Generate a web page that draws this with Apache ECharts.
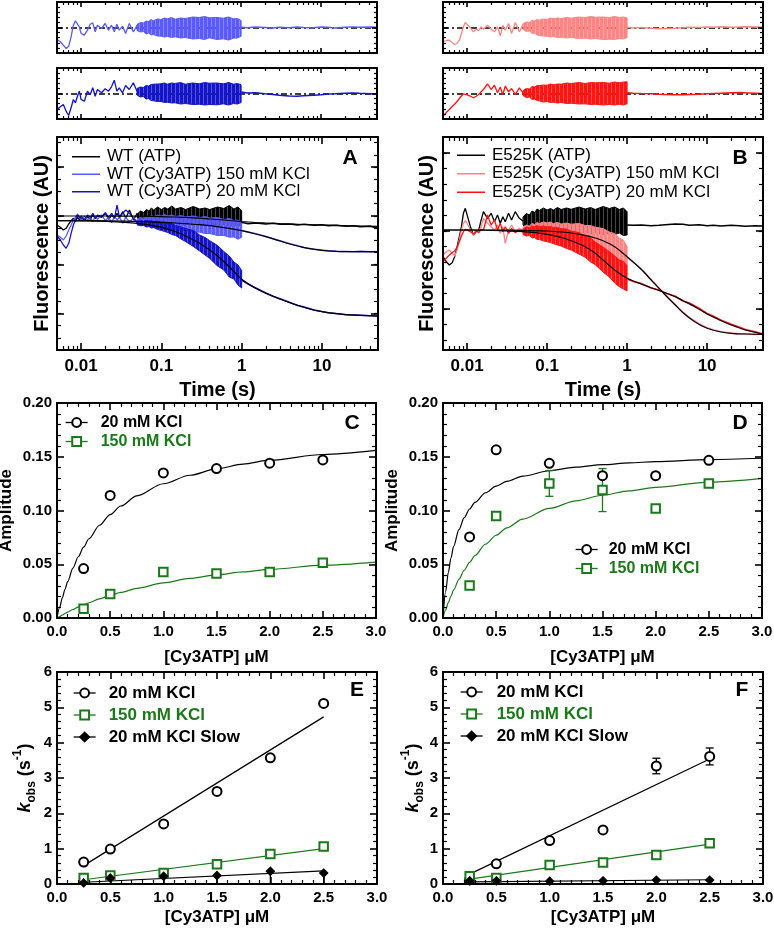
<!DOCTYPE html>
<html><head><meta charset="utf-8">
<script src="https://cdn.jsdelivr.net/npm/echarts@6/dist/echarts.min.js"></script>
<style>html,body{margin:0;padding:0;background:#fff}#c{width:774px;height:928px}</style>
</head><body><div id="c"></div>
<script>
// ================= DATA =================
// time bases (s)
const tEarly = [0.005,0.0055,0.006,0.0065,0.007,0.0075,0.008,0.0085,0.009,0.0095,0.01,0.011,0.012,0.013,0.014,0.015,0.016,0.018,0.02,0.022,0.024,0.026,0.028,0.03,0.033,0.036,0.04,0.045,0.05];
const tBand = [0.05,0.055,0.06,0.065,0.07,0.075,0.08,0.09,0.1,0.11,0.12,0.135,0.15,0.175,0.2,0.25,0.3,0.35,0.4,0.5,0.6,0.7,0.8,0.9,1];
const tLate = [1,1.2,1.5,2,2.5,3,4,5,6,8,10,12,15,20,25,30,40,50];
const tFit = [0.005,0.01,0.02,0.05,0.1,0.15,0.2,0.3,0.4,0.5,0.7,1,1.5,2,3,4,5,7,10,15,20,30,50];

// Panel A (WT) fluorescence, AU
const aAtpEarly = [125,122.7,120,121.7,126,129.3,131.7,128.3,132.7,130,134,129.3,133.3,130.7,135,131.3,134,132.7,136.7,130.7,134.7,132,136.7,132.7,138.3,131.7,140,130,137];
const aAtpHi = [136,139,137.5,140.5,139,142,140,143,140.5,142.5,141,144,141,142.5,140.5,143.5,141,142,140.5,143,141.5,144.5,141,143,139];
const aAtpLo = [132,130,131,128.5,129.5,127,128,126,127.5,125.5,127,125,126.5,124.5,126,125,126.5,124.5,126,124.5,125.5,123.5,125,123.5,126];
const aAtpLate = [127.7,126.3,127,126,126.7,125.7,126,125,125.7,124.7,125.3,124.3,124.7,123.7,124.3,123.3,123.7,121.7];
const aAtpFit = [134,134,134,133.8,133.3,133,132.5,131.8,131,130.5,129.5,128.5,127.5,127,126.3,126,125.7,125.3,125,124.6,124.3,124,123.7];

const a150Early = [115,112.7,110,114,120,125,130,132.7,136,132.7,130,134,130,132.7,128.3,134,130.7,135,129.3,132.7,127.3,134,130,132.7,126.7,132.7,128.3,131.7,128.5];
const a150Hi = [130.5,132.5,131.5,133.5,132.5,134.5,133.5,135,134,135.5,134,135,133.5,134.5,133,134,132.5,133.5,132,132.5,130.5,131.5,129.5,130,126.7];
const a150Lo = [126.5,125,125.5,123.5,124,122.5,123,121.5,122,120.5,121.5,120,120.5,119,119.5,118,117.8,116.5,116.5,114.5,114.5,112.8,113,110.8,112.7];
const a150Late = [119.5,118,116.3,113.5,111,109.3,106.3,104.2,102.5,100.8,99.9,99.2,98.8,98.5,98.2,98.6,98.1,98.4];
const a150Fit = [129.3,129.3,129.2,128.7,127.7,127,126.3,125.3,124.3,123.3,121.7,119.3,116,113.3,109,106,104,101.3,99.7,98.7,98.3,98.3,98.3];

const a20Early = [114,110,105,101.7,106.7,116.7,125,130,135,132.7,134,130.7,135,132.7,136.7,131.7,135,133.3,137.3,132.7,136.7,131.7,145,132.7,136.7,140,136.7,131.7,127];
const a20Hi = [128.5,129.3,128.8,129.5,129,129.3,128.3,128.8,127.7,128,126.5,126.5,124.5,123,121.5,119.5,115,112.5,109.3,104.5,98.5,94,88,85,79.5];
const a20Lo = [125,124.2,124.5,123,123.5,122,122.5,120.5,119.5,118.5,117.5,115.5,114.5,111,108.5,103.5,99,95,91.5,84,80,73,71,65,62];
const a20Late = [70,66,62,57,53.5,51.3,47.5,44.5,43,40,38.5,37.3,36.5,35.2,35,34.8,34.2,33.8];
const a20Fit = [129.3,129.2,128.7,126.7,122.7,118.3,114,106.7,100,94,83.3,70.7,61.7,56.7,51,47.3,44.7,41,38.3,36.3,35.3,34.7,34];

// Panel B (E525K) fluorescence, AU
const bAtpEarly = [93.3,88.3,85,87.3,93.3,103.3,113.3,123.3,136.7,141.7,140,123.3,115,118.3,120,130,138.3,131.7,136.7,128.3,135,126.7,133.3,128.3,136.7,130,138.3,131.7,129];
const bAtpHi = [133,136.5,135,139,137.5,141,139.5,142,140,141.5,140,142.5,140.5,142,140.7,143,141,142.5,140.5,143.5,141.5,143,140.5,142,138.3];
const bAtpLo = [125,122.5,124,120.5,122,119,120.5,118,120,118,119.5,117.5,119,117,118.5,116.5,118,116,117.5,115.5,117,115.5,117,114.5,115];
const bAtpLate = [125,124.7,125,124.3,124.7,125.3,126,125.7,124.7,125.3,124.3,124.7,124,124.7,124.3,123.7,124.3,124];

const b150Early = [95,98.3,100,96.7,94,100,110,120,126.7,129.3,126.7,120,115,120,118.3,123.3,131.7,126.7,123.3,120,125,116.7,123.3,106.7,120,125,118.3,121.7,120];
const b150Hi = [123,125,124,126.5,125.5,127.5,126.5,128,127,128,126.5,127.5,126,127,125.8,126.5,124.5,124.5,122.7,121.5,118,116.5,112,110,103.3];
const b150Lo = [117,115,116,113.5,114.5,112.5,113,111.5,111.5,110.5,110.5,109.5,109.5,108.3,108,106.5,105,103.5,101.5,98.5,95,91.5,88.5,84,83.3];
const b150Late = [92.5,88,81,70.5,62,55.5,45.5,37.8,32.5,26,22.2,20,18.2,16.9,16.3,16.2,15.6,15.9];
const b150Fit = [120,120,120,119.7,119,118,117,114.7,112,109.3,103.3,93.3,80.7,70,55,45,37.3,28.3,21.7,18,16.7,16,15.7];

const b20Early = [88.3,91.7,95,97.3,99.3,102.7,108.3,114,118.3,120.7,121.7,118.3,116,119.3,117.3,120.7,120,135,125,130,120,126.7,118.3,123.3,116.7,121.7,117.3,120,118.3];
const b20Hi = [121,123,122,124,123,124.5,123.3,124,123,123.5,122.3,122.5,121.3,121,118.7,117.5,114,112,108,103,98.3,94,90,88.5,84.3];
const b20Lo = [115.5,114,114.5,112,112.5,110.5,110.5,109,108.3,107.5,106.3,105,104,101.5,100,96,92.7,88,85.3,78,73,67,63.3,61,59];
const b20Late = [71,68.5,66.5,62,60,57,53.8,49,47,41.5,36.5,33.8,29.7,25.8,23,20.5,18.3,16];
const b20Fit = [120,120,119.7,118.3,115.7,112.7,109.3,103.3,96.7,90,80,71.7,66,62.3,57.3,53.3,49.3,43.3,36,29.3,25,20,16];

// Residuals
const rA150Early = [-12,-14.3,-17.7,-21,-18.7,-9.3,2.3,6.7,4.7,0.7,-6,-7.7,-2.7,3.3,4.7,-4.3,2.3,-1,4,-2.7,2.3,-4.3,3.3,-2.7,1.3,-6,4,-4.3,2];
const rA150Hi = [3,5,4.5,6.5,6,8,6.7,8.5,8,9.5,8.7,10,8.3,9.5,9,10.5,10,11,9.7,10,9.3,10.5,8.7,9,7];
const rA150Lo = [-3,-4.5,-4,-6.5,-5.5,-7.5,-7,-8.5,-8.7,-9.5,-9,-10,-9.3,-10.5,-10,-11.5,-11,-12,-10.3,-12,-11.3,-12.5,-10.7,-10.5,-8.7];
const rA150Late = [0.3,-0.3,0.5,0,-0.5,0.3,-0.3,0.5,0,-0.3,0.5,0.2,-0.5,0.3,0.6,0.2,0.5,0.3];

const rA20Early = [-16,-13.3,-11,-17.7,-22,-14.3,-6,-9.3,-2.7,2.3,-6,-7.7,2.3,-1,5.7,-2.7,4,0.7,4.7,2.3,6.7,13.3,2.3,5.7,0.7,8,4,10.7,2.3];
const rA20Hi = [5,6.5,6,8,7.5,9,9.3,9.5,9.7,10.5,9.3,10.5,10,11,9.3,10.5,9.7,11,10.3,10.5,9.7,11,9.3,10,8.7];
const rA20Lo = [-1.5,-3.5,-3,-5.5,-5,-7,-7.3,-8,-8,-9,-8.7,-9.5,-9.3,-10.5,-10,-11,-10.7,-11.5,-11,-11.3,-10.3,-11.5,-10,-10.5,-9];
const rA20Late = [1.5,0.5,0.8,-0.3,-1,-1.8,-2.5,-2.8,-2.3,-1.8,-1.3,-0.5,-0.3,0.3,0.5,0.2,-0.2,-0.5];

const rB150Early = [-14.3,-13,-12.7,-15,-17,-16,-12.7,-6,0.7,5,6.3,-0.3,-4.3,-1.7,-3,0.7,-1.7,2.3,-1.7,-4.3,0.7,-8.3,2.3,-2.7,4,-6,5,-4.3,3];
const rB150Hi = [4,5.5,5,7,6.5,8,7.3,8.5,8,9.5,8.7,9.5,9,10,9.3,10.5,10,11,10.3,10.5,10,11,10,10.5,9.7];
const rB150Lo = [-2,-4,-3.5,-6,-5.5,-7.5,-8,-8.5,-8.7,-9.5,-9,-10,-9.7,-10.5,-10,-11,-10.7,-11.5,-11,-12,-11.7,-12,-11,-11.5,-10];
const rB150Late = [0.3,-0.5,0,-0.7,-1.3,-1,-0.7,-0.3,0.3,0,0.5,0.3,0.7,0.3,0.5,0.7,0.5,0.3];

const rB20Early = [-22.7,-19,-16,-13,-10.5,-8,-5,-2.5,-0.3,-1,-1.3,-2.7,-4.3,-2.7,-1,1.7,4,9.7,4,8.3,0.7,6.3,-1,7.3,1.7,5,-1,5.7,0.7];
const rB20Hi = [3,5,4.5,7,6.5,8,8,8.5,8.3,9.5,8.7,9.5,9.3,10.5,10,11,10,11,10.7,11,10.3,11.5,10.7,11.5,11.7];
const rB20Lo = [-2,-4,-3.5,-6,-5.5,-7,-7.3,-8.5,-8,-9,-8.7,-9.5,-9,-10,-9.7,-10.5,-10.3,-11,-10.7,-11.5,-11,-11.5,-10.7,-11.5,-10.3];
const rB20Late = [0.7,0.3,0,-0.3,-0.7,-1,-1.3,-1.3,-1,-0.7,-0.3,0,0.3,0.7,1,0.7,0.3,0];

// Panels C/D amplitudes
const conc = [0.25,0.5,1,1.5,2,2.5];
const cAmp20 = [0.046,0.114,0.135,0.139,0.144,0.147];
const cAmp150 = [0.0087,0.0224,0.0427,0.0414,0.0427,0.0514];
const dAmp20 = [0.0754,0.1564,0.1439,0.1324,0.1324,0.1467];
const dAmp150 = [0.0302,0.095,0.1252,0.119,0.1019,0.1252];
const dErr150 = [0,0,0.012,0.020,0,0];
const fitConc = [0,0.025,0.05,0.075,0.1,0.15,0.2,0.25,0.3,0.4,0.5,0.6,0.75,1,1.25,1.5,1.75,2,2.5,3];
const cFit20 = [0,0.0099,0.0187,0.0267,0.0339,0.0464,0.0570,0.0659,0.0737,0.0863,0.0962,0.1042,0.1136,0.1249,0.1328,0.1387,0.1432,0.1468,0.1521,0.1559];
const cFit150 = [0,0.0014,0.0028,0.0042,0.0054,0.0079,0.0101,0.0122,0.0142,0.0178,0.0210,0.0238,0.0276,0.0327,0.0368,0.0401,0.0429,0.0453,0.0491,0.0520];
const dFit20 = [0,0.0246,0.0425,0.0560,0.0667,0.0823,0.0933,0.1014,0.1076,0.1165,0.1227,0.1271,0.1319,0.1370,0.1403,0.1426,0.1443,0.1455,0.1474,0.1486];
const dFit150 = [0,0.0075,0.0143,0.0204,0.0261,0.0360,0.0444,0.0517,0.0581,0.0686,0.0770,0.0839,0.0920,0.1019,0.1090,0.1142,0.1183,0.1216,0.1264,0.1299];

// Panels E/F kobs (s^-1)
const eK20 = [0.62,0.99,1.70,2.62,3.57,5.11];
const eK150 = [0.17,0.24,0.31,0.56,0.85,1.06];
const eKslow = [0.03,0.17,0.22,0.24,0.36,0.31];
const eSlowErrLo = [0,0.12,0.2,0.24,0.36,0.31];
const lineX = [0.25,2.5];
const eFit20 = [0.52,4.73];
const eFit150 = [0.12,1.0];
const eFitSlow = [0.05,0.37];

const fK20 = [0.12,0.57,1.23,1.53,3.34,3.61];
const fErr20 = [0,0,0,0,0.22,0.24];
const fK150 = [0.22,0.17,0.54,0.61,0.82,1.15];
const fKslow = [0.09,0.09,0.08,0.09,0.11,0.11];
const fFit20 = [0.28,3.54];
const fFit150 = [0.14,1.13];
const fFitSlow = [0.06,0.12];

// tick labels
const logLabels = [0.01,0.1,1,10];

// ================= BUILD =================
const FONT = '"Liberation Sans", Arial, Helvetica, sans-serif';
const GREEN = '#1a7a1a', LBLUE = '#5a5aff', DBLUE = '#1414c8', PINK = '#ff8585', RED = '#ff1414';
const pts = (xs, ys) => xs.map((x, i) => [x, ys[i]]);

// fine vertical-hatch texture used as the fill style of the dense-noise bands
function hatch(color) {
  const c = document.createElement('canvas'); c.width = 4; c.height = 2;
  const g = c.getContext('2d');
  g.fillStyle = color; g.fillRect(0, 0, 3, 2);
  g.globalAlpha = 0.72; g.fillRect(3, 0, 1, 2);
  return {image: c, repeat: 'repeat'};
}

const logMinor = [];
[0.001,0.01,0.1,1,10].forEach(d => { for (let k = 2; k <= 9; k++) { const v = +(d * k).toPrecision(3); if (v > 0.005 && v < 50) logMinor.push(v); } });
const fluoMinorA = []; for (let k = 1; k <= 17; k++) fluoMinorA.push(+(12.2 * k).toFixed(1));
const fluoMinorB = []; for (let k = -2; k <= 10; k++) fluoMinorB.push(+(41 + 15.6 * k).toFixed(1));

const grids = [
  {left:57, top:2, width:320, height:51},
  {left:57, top:68, width:320, height:51},
  {left:443, top:2, width:320, height:51},
  {left:443, top:68, width:320, height:51},
  {left:57, top:137, width:321, height:213},
  {left:443, top:137, width:320, height:213},
  {left:57, top:403, width:319, height:215},
  {left:443, top:403, width:319, height:215},
  {left:57, top:672, width:320, height:212},
  {left:443, top:672, width:320, height:212}
].map(g => Object.assign({outerBoundsMode:'none', containLabel:false}, g));

const xAxes = [], yAxes = [];
function ax(g, s, pos, isMain, minor) {
  const o = {
    gridIndex: g, type: s.type, position: pos, min: s.min, max: s.max, silent: true, z: 10,
    splitLine: {show:false}, minorSplitLine: {show:false},
    axisLine: {show: !minor, onZero: false, lineStyle: {color:'#000', width:2}},
    axisTick: {show:true, inside:true, length: minor ? s.minLen : s.majLen, lineStyle: {color:'#000', width: minor ? 1.2 : 1.6}},
    minorTick: {show:false}, axisLabel: {show:false}, axisPointer: {show:false}
  };
  if (s.type === 'log') o.logBase = 10;
  if (minor) { o.axisTick.customValues = s.minors; }
  else {
    if (s.majors) o.axisTick.customValues = s.majors;
    if (s.interval) o.interval = s.interval;
    if (s.minorSplit) o.minorTick = {show:true, splitNumber:s.minorSplit, length:s.minLen, lineStyle:{color:'#000', width:1.2}};
    if (isMain && s.labels) {
      o.axisLabel = {show:true, fontFamily:FONT, fontWeight:'bold', fontSize:s.labelSize, color:'#000', margin:s.labelMargin, formatter:s.fmt};
      if (s.labelValues) o.axisLabel.customValues = s.labelValues;
    }
    if (isMain && s.name) {
      o.name = s.name; o.nameLocation = 'middle'; o.nameGap = s.nameGap;
      o.nameTextStyle = Object.assign({fontFamily:FONT, fontWeight:'bold', fontSize:s.nameSize, color:'#000'}, s.nameStyle || {});
    }
  }
  return o;
}
function addPanel(g, xs, ys) {
  xAxes.push(ax(g, xs, 'bottom', true, false)); const xi = xAxes.length - 1;
  xAxes.push(ax(g, xs, 'top', false, false));
  if (xs.minors) { xAxes.push(ax(g, xs, 'bottom', false, true)); xAxes.push(ax(g, xs, 'top', false, true)); }
  yAxes.push(ax(g, ys, 'left', true, false)); const yi = yAxes.length - 1;
  yAxes.push(ax(g, ys, 'right', false, false));
  if (ys.minors) { yAxes.push(ax(g, ys, 'left', false, true)); yAxes.push(ax(g, ys, 'right', false, true)); }
  return {xi, yi};
}

const logRes = {type:'log', min:0.005, max:50, majors:logLabels, minors:logMinor, majLen:5, minLen:3};
const yRes = {type:'value', min:-25.5, max:25.5, majors:[0], minors:[-20.4,-15.3,-10.2,-5.1,5.1,10.2,15.3,20.4], majLen:5, minLen:3};
const logMain = {type:'log', min:0.005, max:50, majors:logLabels, minors:logMinor, majLen:7, minLen:4,
  labels:true, labelValues:logLabels, labelSize:17, labelMargin:8, fmt: v => String(+(+v).toPrecision(2)),
  name:'Time (s)', nameGap:30, nameSize:20};
const yFluoA = {type:'value', min:0, max:213, majors:[36.6,85.4,134.2,183], minors:fluoMinorA, majLen:7, minLen:4, name:'Fluorescence (AU)', nameGap:5, nameSize:20};
const yFluoB = {type:'value', min:0, max:213, majors:[41,119,197], minors:fluoMinorB, majLen:7, minLen:4, name:'Fluorescence (AU)', nameGap:6, nameSize:20};
const xConc = (gap) => ({type:'value', min:0, max:3, interval:0.5, minorSplit:5, majLen:7, minLen:4, labels:true, labelSize:15, labelMargin:6,
  fmt: v => (+v).toFixed(1), name:'[Cy3ATP] \u03bcM', nameGap:gap, nameSize:17});
const yAmp = (gap) => ({type:'value', min:0, max:0.2, interval:0.05, minorSplit:5, majLen:7, minLen:4, labels:true, labelSize:15, labelMargin:5,
  fmt: v => (+v).toFixed(2), name:'Amplitude', nameGap:gap, nameSize:17});
const kRich = {
  k:{fontFamily:FONT, fontSize:18, fontWeight:'bold', fontStyle:'italic', lineHeight:26, verticalAlign:'middle'},
  n:{fontFamily:FONT, fontSize:18, fontWeight:'bold', lineHeight:26, verticalAlign:'middle'},
  sub:{fontFamily:FONT, fontSize:12, fontWeight:'bold', lineHeight:26, verticalAlign:'bottom'},
  sup:{fontFamily:FONT, fontSize:12, fontWeight:'bold', lineHeight:26, verticalAlign:'top'}
};
const yK = (gap) => ({type:'value', min:0, max:6, interval:1, minorSplit:5, majLen:7, minLen:4, labels:true, labelSize:15, labelMargin:5,
  fmt: v => String(v), name:'{k|k}{sub|obs}{n| (s}{sup|-1}{n|)}', nameGap:gap, nameSize:18, nameStyle:{rich:kRich}});

const pR1L = addPanel(0, logRes, yRes);
const pR2L = addPanel(1, logRes, yRes);
const pR1R = addPanel(2, logRes, yRes);
const pR2R = addPanel(3, logRes, yRes);
const pA = addPanel(4, logMain, yFluoA);
const pB = addPanel(5, logMain, yFluoB);
const pC = addPanel(6, xConc(31), yAmp(42));
const pD = addPanel(7, xConc(31), yAmp(42));
const pE = addPanel(8, xConc(25), yK(19));
const pF = addPanel(9, xConc(25), yK(15));

const series = [];
function lineS(name, p, data, color, width, z) {
  return {type:'line', name, xAxisIndex:p.xi, yAxisIndex:p.yi, data, symbol:'none', showSymbol:false,
    lineStyle:{color, width}, itemStyle:{color}, z, silent:true, clip:true};
}
function bandS(p, t, lo, hi, color, z) {
  const fill = hatch(color);
  return {type:'custom', xAxisIndex:p.xi, yAxisIndex:p.yi, z, silent:true, clip:true,
    data: t.map((v, i) => [v, lo[i], hi[i]]), encode:{x:0, y:1},
    renderItem(params, api) {
      if (params.dataIndex !== 0) return null;
      const up = [], dn = [];
      for (let i = 0; i < t.length; i++) { up.push(api.coord([t[i], hi[i]])); dn.push(api.coord([t[i], lo[i]])); }
      return {type:'polygon', shape:{points: up.concat(dn.reverse())}, style:{fill, stroke:color, lineWidth:1}};
    }};
}
function trace(p, name, color, early, lo, hi, late, lateW) {
  series.push(lineS(name, p, pts(tEarly, early), color, 1.3, 2));
  series.push(bandS(p, tBand, lo, hi, color, 2));
  series.push(lineS(name + ' (late)', p, pts(tLate, late), color, lateW || 1.6, 2));
}
function zeroLine(p, name) {
  const s = lineS(name, p, [], '#000', 1, 1);
  s.markLine = {silent:true, symbol:'none', z:1, animation:false, label:{show:false},
    lineStyle:{color:'#000', width:1.5, type:[6,3,2,3]}, data:[{yAxis:0}]};
  series.push(s);
}

// residuals
zeroLine(pR1L, 'zeroA1'); trace(pR1L, 'resA150', LBLUE, rA150Early, rA150Lo, rA150Hi, rA150Late, 1.4);
zeroLine(pR2L, 'zeroA2'); trace(pR2L, 'resA20', DBLUE, rA20Early, rA20Lo, rA20Hi, rA20Late, 1.4);
zeroLine(pR1R, 'zeroB1'); trace(pR1R, 'resB150', PINK, rB150Early, rB150Lo, rB150Hi, rB150Late, 1.4);
zeroLine(pR2R, 'zeroB2'); trace(pR2R, 'resB20', RED, rB20Early, rB20Lo, rB20Hi, rB20Late, 1.4);

// panel A
trace(pA, 'WT (ATP)', '#000', aAtpEarly, aAtpLo, aAtpHi, aAtpLate);
trace(pA, 'WT (Cy3ATP) 150 mM KCl', LBLUE, a150Early, a150Lo, a150Hi, a150Late);
trace(pA, 'WT (Cy3ATP) 20 mM KCl', DBLUE, a20Early, a20Lo, a20Hi, a20Late);
['atp', '150', '20'].forEach((k, i) => {
  const s = lineS('fitA ' + k, pA, pts(tFit, [aAtpFit, a150Fit, a20Fit][i]), '#000', 1.2, 4); s.smooth = 0.3; series.push(s);
});

// panel B
trace(pB, 'E525K (ATP)', '#000', bAtpEarly, bAtpLo, bAtpHi, bAtpLate);
trace(pB, 'E525K (Cy3ATP) 150 mM KCl', PINK, b150Early, b150Lo, b150Hi, b150Late);
trace(pB, 'E525K (Cy3ATP) 20 mM KCl', RED, b20Early, b20Lo, b20Hi, b20Late);
const fb1 = lineS('fitB 150', pB, pts(tFit, b150Fit), '#000', 1.2, 4); fb1.smooth = 0.3; series.push(fb1);
const fb2 = lineS('fitB 20', pB, pts(tFit, b20Fit), '#000', 1.2, 4); fb2.smooth = 0.3; series.push(fb2);

// point series helpers
function ptsS(name, p, xs, ys, symbol, size, fill, stroke) {
  return {type:'line', name, xAxisIndex:p.xi, yAxisIndex:p.yi, data:pts(xs, ys), symbol, symbolSize:size, showSymbol:true,
    itemStyle:{color:fill, borderColor:stroke, borderWidth:2}, lineStyle:{color:stroke, width:1.3, opacity:0}, z:6, silent:true, clip:false};
}
function fitS(name, p, xs, ys, color, smooth) {
  const s = lineS(name, p, pts(xs, ys), color, 1.2, 3);
  if (smooth) { s.smooth = 0.3; s.smoothMonotone = 'x'; }
  return s;
}
function errS(p, xs, ys, lo, hi, color, cap) {
  const data = [];
  xs.forEach((x, i) => { if (lo[i] > 0 || hi[i] > 0) data.push([x, ys[i], lo[i], hi[i]]); });
  return {type:'custom', xAxisIndex:p.xi, yAxisIndex:p.yi, z:5, silent:true, clip:true, data, encode:{x:0, y:1},
    renderItem(params, api) {
      const x = api.value(0), y = api.value(1), l = api.value(2), h = api.value(3);
      const top = api.coord([x, y + h]), bot = api.coord([x, y - l]);
      const st = {stroke:color, lineWidth:1.3};
      const ch = [{type:'line', shape:{x1:top[0], y1:top[1], x2:bot[0], y2:bot[1]}, style:st}];
      if (h > 0) ch.push({type:'line', shape:{x1:top[0]-cap, y1:top[1], x2:top[0]+cap, y2:top[1]}, style:st});
      if (l > 0) ch.push({type:'line', shape:{x1:bot[0]-cap, y1:bot[1], x2:bot[0]+cap, y2:bot[1]}, style:st});
      return {type:'group', children:ch};
    }};
}
const zeros = conc.map(() => 0);

// panel C
series.push(fitS('fitC20', pC, fitConc, cFit20, '#000', true));
series.push(fitS('fitC150', pC, fitConc, cFit150, GREEN, true));
series.push(ptsS('20 mM KCl', pC, conc, cAmp20, 'circle', 9, '#fff', '#000'));
series.push(ptsS('150 mM KCl', pC, conc, cAmp150, 'rect', 8.5, '#fff', GREEN));
// panel D
series.push(fitS('fitD20', pD, fitConc, dFit20, '#000', true));
series.push(fitS('fitD150', pD, fitConc, dFit150, GREEN, true));
series.push(errS(pD, conc, dAmp150, dErr150, dErr150, GREEN, 4));
series.push(ptsS('20 mM KCl', pD, conc, dAmp20, 'circle', 9, '#fff', '#000'));
series.push(ptsS('150 mM KCl', pD, conc, dAmp150, 'rect', 8.5, '#fff', GREEN));
// panel E
series.push(fitS('fitE20', pE, lineX, eFit20, '#000'));
series.push(fitS('fitE150', pE, lineX, eFit150, GREEN));
series.push(fitS('fitEslow', pE, lineX, eFitSlow, '#000'));
series.push(errS(pE, conc, eKslow, eSlowErrLo, zeros, '#000', 0));
series.push(ptsS('20 mM KCl', pE, conc, eK20, 'circle', 9, '#fff', '#000'));
series.push(ptsS('150 mM KCl', pE, conc, eK150, 'rect', 8.5, '#fff', GREEN));
series.push(ptsS('20 mM KCl Slow', pE, conc, eKslow, 'diamond', 7, '#000', '#000'));
// panel F
series.push(fitS('fitF20', pF, lineX, fFit20, '#000'));
series.push(fitS('fitF150', pF, lineX, fFit150, GREEN));
series.push(fitS('fitFslow', pF, lineX, fFitSlow, '#000'));
series.push(errS(pF, conc, fK20, fErr20, fErr20, '#000', 4));
series.push(ptsS('20 mM KCl', pF, conc, fK20, 'circle', 9, '#fff', '#000'));
series.push(ptsS('150 mM KCl', pF, conc, fK150, 'rect', 8.5, '#fff', GREEN));
series.push(ptsS('20 mM KCl Slow', pF, conc, fKslow, 'diamond', 7, '#000', '#000'));

// legends
const traceLegend = (left, top, names, lh) => ({
  left, top, orient:'vertical', padding:0, itemGap:0, selectedMode:false, icon:'rect', itemWidth:28, itemHeight:1.5,
  itemStyle:{borderWidth:0}, textStyle:{fontFamily:FONT, fontSize:17, color:'#000', lineHeight:lh, padding:[0,0,0,2]}, data:names});
const ptLegend = (left, top, names, fs, lh, pad) => ({
  left, top, orient:'vertical', padding:0, itemGap:0, selectedMode:false, itemWidth:22, itemHeight:11,
  itemStyle:{borderWidth:2}, lineStyle:{opacity:1, width:1.3},
  textStyle:{fontFamily:FONT, fontSize:fs, fontWeight:'bold', color:'#000', lineHeight:lh, padding:[0,0,0,pad]},
  data: names.map(n => n === '150 mM KCl' ? {name:n, textStyle:{color:GREEN}} : {name:n})});
const legends = [
  traceLegend(72, 148, ['WT (ATP)','WT (Cy3ATP) 150 mM KCl','WT (Cy3ATP) 20 mM KCl'], 17.5),
  traceLegend(457, 146, ['E525K (ATP)','E525K (Cy3ATP) 150 mM KCl','E525K (Cy3ATP) 20 mM KCl'], 18.5),
  ptLegend(65, 413, ['20 mM KCl','150 mM KCl'], 16, 19, 8),
  ptLegend(575, 540, ['20 mM KCl','150 mM KCl'], 16, 19, 6),
  ptLegend(73, 682, ['20 mM KCl','150 mM KCl','20 mM KCl Slow'], 17, 22, 8),
  ptLegend(460, 681, ['20 mM KCl','150 mM KCl','20 mM KCl Slow'], 17, 22, 9)
];

const letter = (t, x, y) => ({type:'text', x, y, z:100, silent:true,
  style:{text:t, fill:'#000', font:'bold 21px ' + FONT, align:'center', verticalAlign:'middle'}});

const chart = echarts.init(document.getElementById('c'), null, {renderer:'canvas'});
chart.setOption({
  animation:false, backgroundColor:'#fff', textStyle:{fontFamily:FONT},
  grid:grids, xAxis:xAxes, yAxis:yAxes, series, legend:legends,
  graphic:[letter('A',350,158), letter('B',740,158), letter('C',352,423), letter('D',740,423), letter('E',357,690), letter('F',742,690)]
});
</script></body></html>
